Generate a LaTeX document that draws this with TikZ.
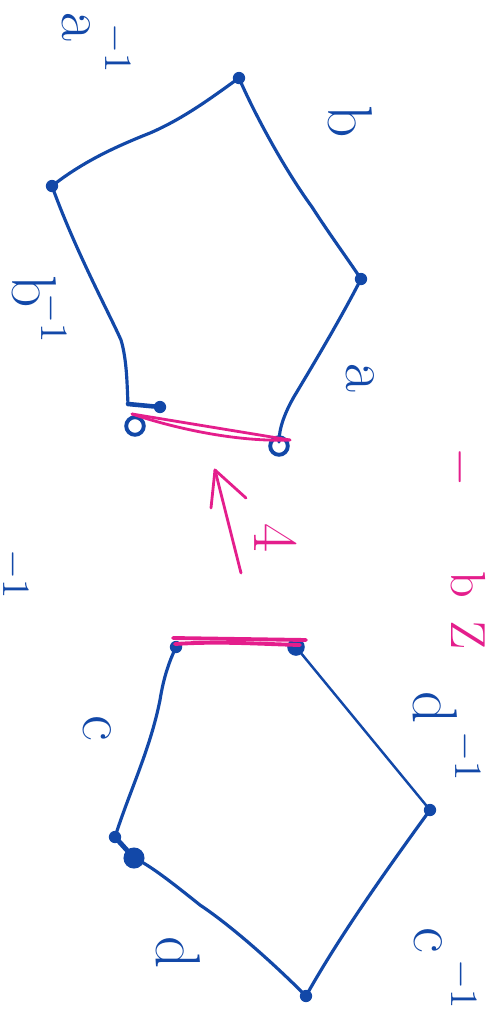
\documentclass[tikz,border=0pt]{standalone}
\definecolor{penblue}{RGB}{18,72,168}
\definecolor{penpink}{RGB}{228,30,140}
\begin{document}
\begin{tikzpicture}[x=0.01cm,y=-0.01cm,
  edge/.style={draw=penblue,line width=0.9pt,line cap=round,line join=round},
  glue/.style={draw=penpink,line width=0.8pt,line cap=round},
  lab/.style={text=penblue,rotate=-90,font=\fontsize{18}{18}\selectfont,inner sep=0pt},
  sup/.style={lab,font=\fontsize{11}{11}\selectfont},
  plab/.style={lab,text=penpink},
  pedge/.style={plab,font=\fontsize{14}{14}\selectfont},
  vdot/.style={circle,fill=penblue,inner sep=0pt,minimum size=3.5pt},
  vring/.style={circle,draw=penblue,line width=1.1pt,inner sep=0pt,minimum size=5pt}]
\useasboundingbox (0,0) rectangle (492,1014);

% ---------- top polygon ----------
\coordinate (P1) at (239,78);
\coordinate (P2) at (361,279);
\coordinate (P3) at (279,442);
\coordinate (P4) at (128,404);
\coordinate (P5) at (52,186);
\coordinate (T1) at (160,407);
\coordinate (G1) at (132,414);
\coordinate (G2) at (290,440);

\draw[edge] (P5) .. controls (85,160) and (120,145) .. (150,133)
                 .. controls (185,118) and (215,95) .. (P1);
\draw[edge] (P1) .. controls (255,115) and (285,170) .. (312,207)
                 .. controls (330,235) and (345,255) .. (P2);
\draw[edge] (P2) .. controls (340,320) and (310,370) .. (295,395)
                 .. controls (285,412) and (279,428) .. (P3);
\draw[edge] (P5) .. controls (75,250) and (110,315) .. (121,340)
                 .. controls (127,360) and (127,385) .. (P4);
\draw[edge,line width=1.3pt] (P4) -- (T1);
\node[vdot] (d1) at (P1) {};
\node[vdot] (d2) at (P2) {};
\node[vdot] (d3) at (P5) {};
\node[vdot] (d4) at (T1) {};
\node[vring] (r1) at (135,426) {};
\node[vring] (r2) at (279,446) {};
\draw[glue] (G1) -- (G2);
\draw[glue] (G1) .. controls (180,430) and (240,442) .. (G2);

% ---------- arrow ----------
\coordinate (AT) at (215,470);
\coordinate (AS) at (241,573);
\coordinate (AL) at (211,508);
\coordinate (AR) at (246,498);
\draw[glue] (AS) -- (AT);
\draw[glue,line join=round] (AL) -- (AT) -- (AR);
\node[plab] (l4) at (276,538) {4};

% ---------- bottom polygon ----------
\coordinate (Q1) at (176,647);
\coordinate (Q2) at (296,647);
\coordinate (Q3) at (430,810);
\coordinate (Q4) at (306,996);
\coordinate (Q5) at (134,858);
\coordinate (Q6) at (115,837);
\coordinate (H1) at (173,638);
\coordinate (H2) at (306,640);

\draw[edge,line width=0.7pt] (Q2) -- (Q3);
\draw[edge] (Q3) .. controls (390,865) and (340,935) .. (Q4);
\draw[edge] (Q4) .. controls (270,960) and (230,925) .. (200,905)
                 .. controls (175,885) and (150,865) .. (Q5);
\draw[edge,line width=1.4pt] (Q5) -- (Q6);
\draw[edge] (Q6) .. controls (130,790) and (150,750) .. (160,700)
                 .. controls (164,675) and (170,660) .. (Q1);
\node[vdot] (e1) at (Q1) {};
\node[vdot,minimum size=5pt] (e2) at (Q2) {};
\node[vdot] (e3) at (Q3) {};
\node[vdot] (e4) at (Q4) {};
\node[vdot,minimum size=6pt] (e5) at (Q5) {};
\node[vdot] (e6) at (Q6) {};
\draw[glue,line width=1.1pt] (H1) -- (H2);
\draw[glue,line width=1.1pt] (175,644) .. controls (220,641) and (260,644) .. (300,645);

% ---------- labels ----------
\node[lab] (la1) at (76,27) {a};
\node[sup] (la1s) at (116,48) {$-1$};
\node[lab] (lb) at (350,122) {b};
\node[lab] (la) at (360,378) {a};
\node[lab] (lb1) at (34,292) {b};
\node[sup] (lb1s) at (52,318) {$-1$};
\node[sup] (lcut) at (14,574) {$-1$};
\node[lab] (lc) at (97,728) {c};
\node[lab] (ld1) at (435,708) {d};
\node[sup] (ld1s) at (466,756) {$-1$};
\node[lab] (lc1) at (428,940) {c};
\node[sup] (lc1s) at (462,984) {$-1$};
\node[lab] (ld) at (178,953) {d};
\node[pedge] (pm) at (460,467) {$-$};
\node[pedge] (pb) at (468,585) {b};
\node[pedge] (pz) at (468,635) {Z};
\end{tikzpicture}
\end{document}
